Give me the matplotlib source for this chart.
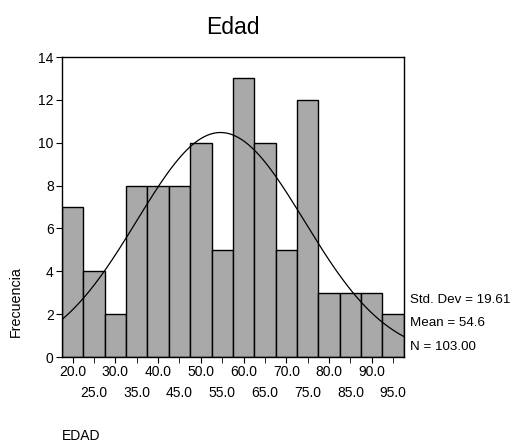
import numpy as np
import matplotlib.pyplot as plt

plt.rcParams['font.family'] = ['Liberation Sans', 'DejaVu Sans']

# histogram of EDAD, bin centres and counts
centers = [20, 25, 30, 35, 40, 45, 50, 55, 60, 65, 70, 75, 80, 85, 90, 95]
counts = [7, 4, 2, 8, 8, 8, 10, 5, 13, 10, 5, 12, 3, 3, 3, 2]
bin_width = 5.0

std_dev = 19.61
mean = 54.6
n = 103

fig = plt.figure(figsize=(5.14, 4.43), dpi=100)
ax = fig.add_axes([0.1206, 0.1941, 0.665, 0.6772])

ax.bar(centers, counts, width=bin_width, color='#a9a9a9',
       edgecolor='black', linewidth=1.0)

# fitted normal curve scaled to counts
xs = np.linspace(17.5, 97.5, 300)
ys = n * bin_width / (std_dev * np.sqrt(2 * np.pi)) * np.exp(-0.5 * ((xs - mean) / std_dev) ** 2)
ax.plot(xs, ys, color='black', linewidth=0.9)

ax.set_xlim(17.5, 97.5)
ax.set_ylim(0, 14)
ax.set_yticks(range(0, 15, 2))

major = centers[0::2]
minor = centers[1::2]
ax.set_xticks(major, ['%.1f' % v for v in major])
ax.set_xticks(minor, ['%.1f' % v for v in minor], minor=True)
ax.tick_params(axis='x', which='major', length=4, pad=2, labelsize=10)
ax.tick_params(axis='x', which='minor', length=4, pad=17, labelsize=10)
ax.tick_params(axis='y', length=4, pad=2, labelsize=10)

for s in ax.spines.values():
    s.set_linewidth(1.0)

fig.text(0.453, 0.938, 'Edad', ha='center', va='center', fontsize=16.5)
fig.text(0.03, 0.32, 'Frecuencia', rotation=90, ha='center', va='center', fontsize=10.3)
fig.text(0.121, 0.0, 'EDAD', ha='left', va='bottom', fontsize=10)

fig.text(0.797, 0.322, 'Std. Dev = %.2f' % std_dev, ha='left', va='center', fontsize=9.6)
fig.text(0.797, 0.271, 'Mean = %.1f' % mean, ha='left', va='center', fontsize=9.6)
fig.text(0.797, 0.217, 'N = %.2f' % n, ha='left', va='center', fontsize=9.6)

fig.savefig('out.png', dpi=100)
